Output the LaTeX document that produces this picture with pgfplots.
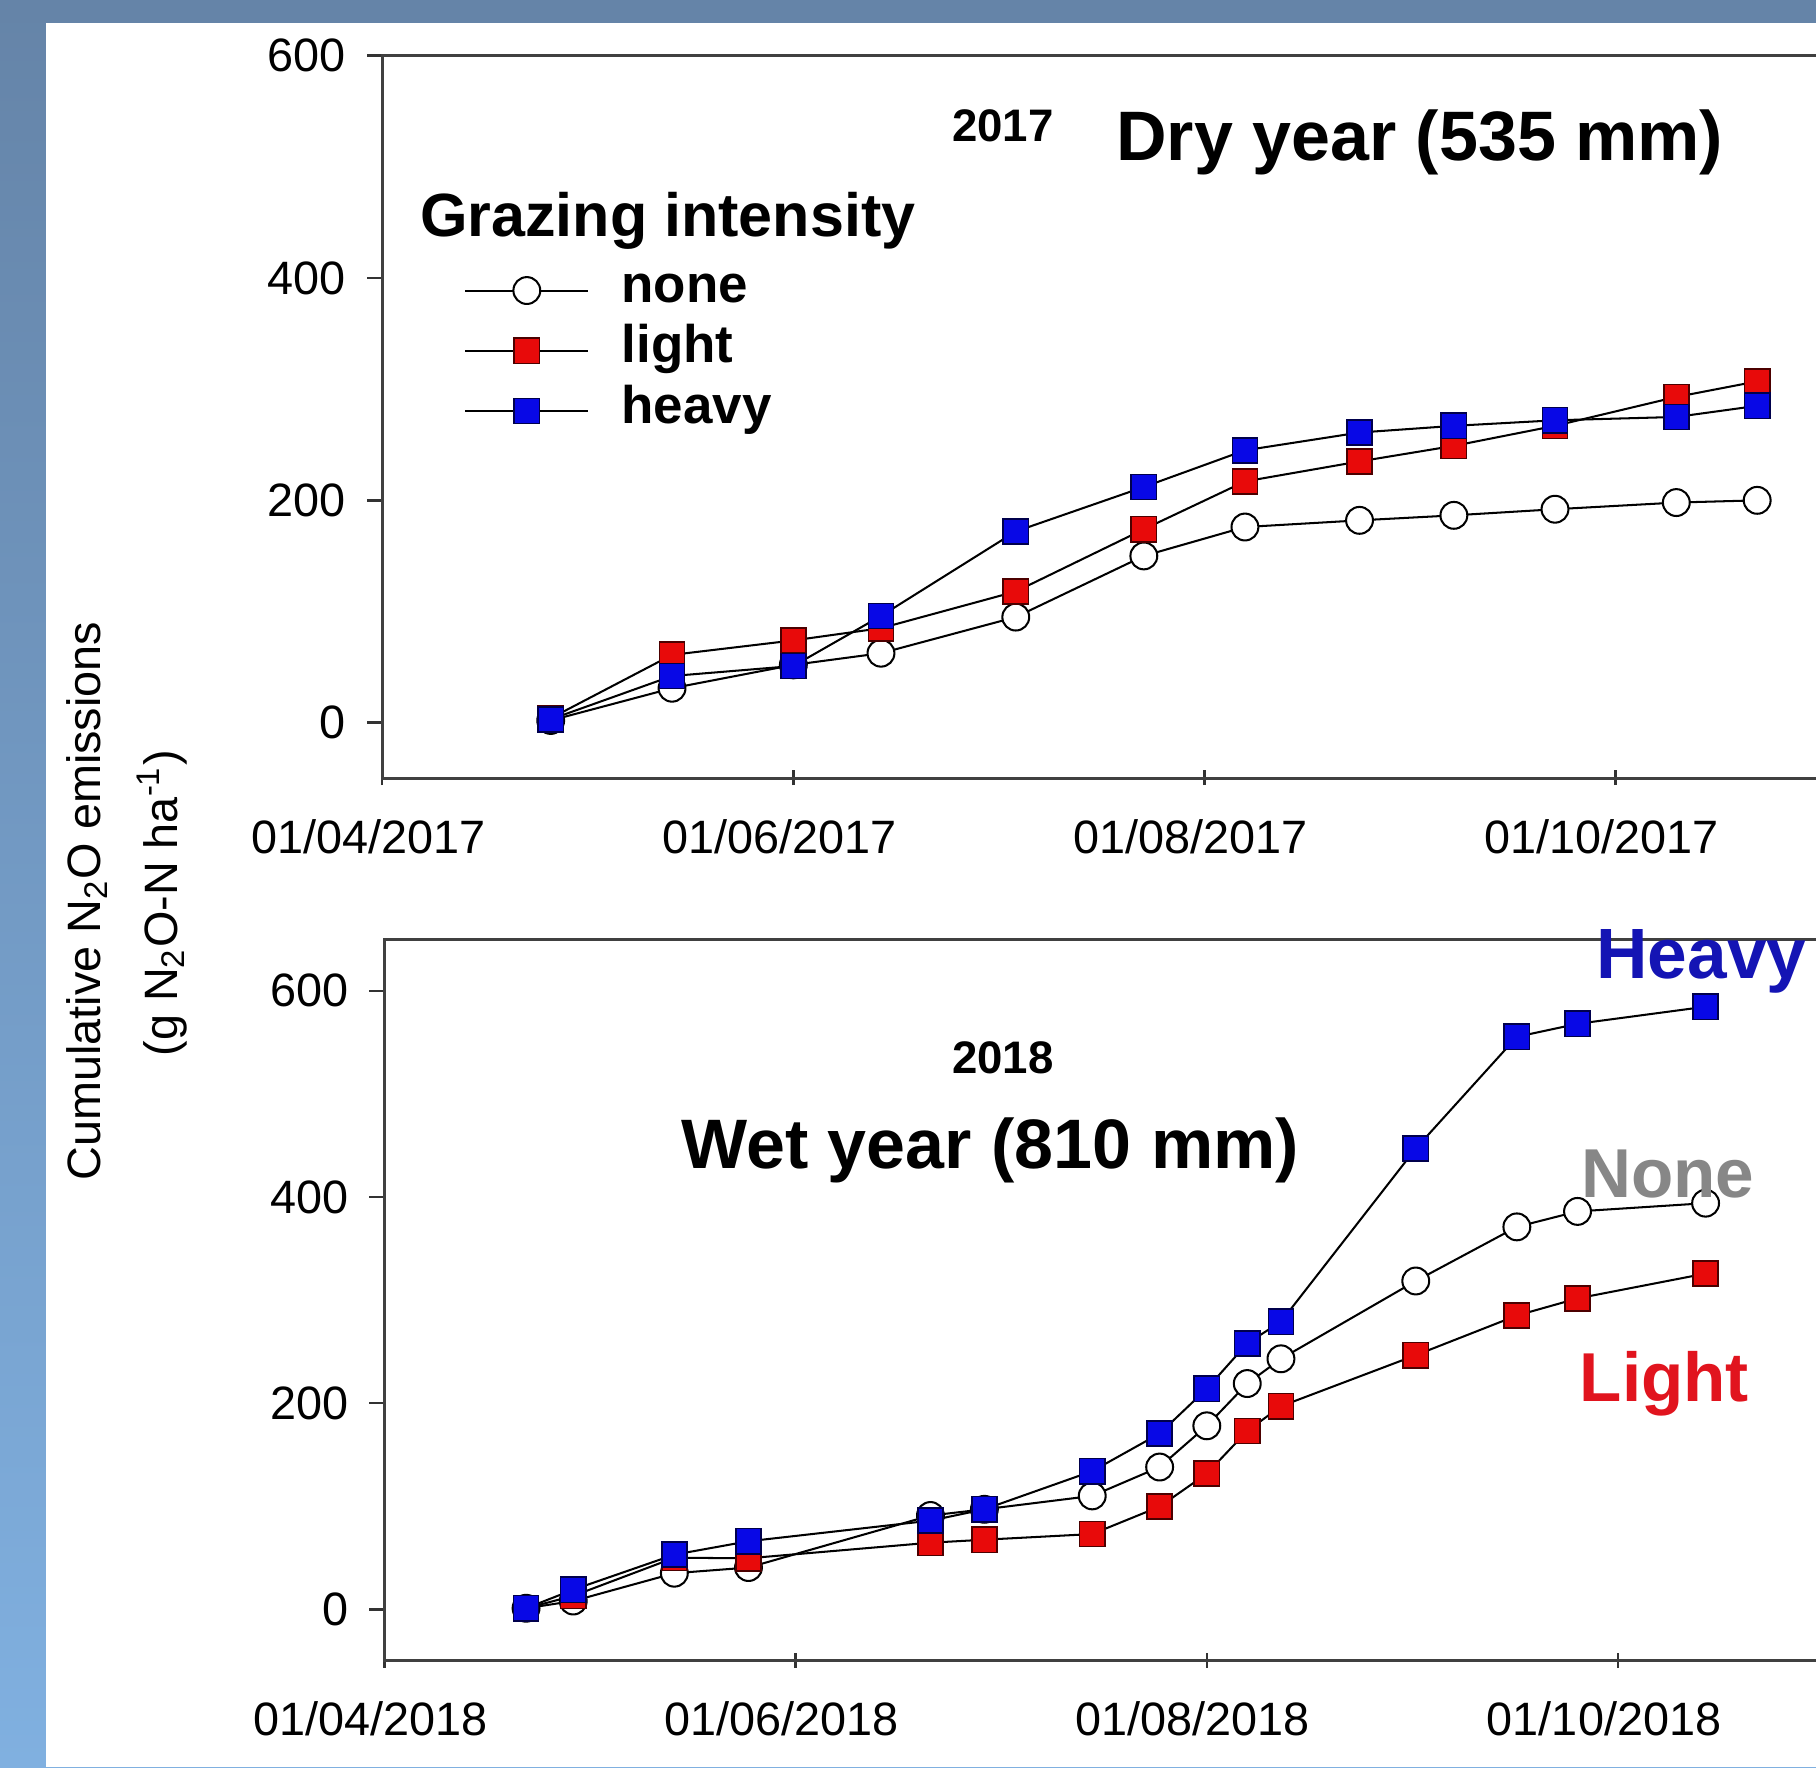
\documentclass[border=0pt]{standalone}
\usepackage{pgfplots}
\pgfplotsset{compat=1.18}
\usepackage{pgfplotstable}
\usepackage{fontspec}
\setmainfont{Liberation Sans}

\definecolor{bgtop}{RGB}{101,132,168}
\definecolor{bgbot}{RGB}{128,176,224}
\definecolor{mred}{RGB}{232,10,10}
\definecolor{mblue}{RGB}{8,8,230}
\definecolor{lblue}{RGB}{20,20,180}
\definecolor{lgray}{RGB}{135,135,135}
\definecolor{lred}{RGB}{225,20,30}

\newcommand\ticfont{\fontsize{11.5}{13}\selectfont}

% days since 1 April
\pgfplotstableread{
day none light heavy
25  2     4    3
43  31    61   42
61  52    74   51
74  62.5  85   96
94  95    118  172
113 150   174  212
128 176   217  245
145 182   235  261
159 186.5 249  267
174 192   267  272
192 198   293  275
204 200   307  285
}\dryyear

\pgfplotstableread{
day none light heavy
21  1     1     1
28  8     13    19
43  35    50    53
54  40.5  49.5  66
81  91    64.6  86
89  97    67.5  97
105 110   73    134
115 138   99.6  170.5
122 178   131.6 214
128 219   173   258
133 243   197   279
153 318.5 246.5 447
168 371   285   555.4
177 386   301.6 568
196 394   325.7 584.6
}\wetyear

\pgfplotsset{
  panel/.style={
    scale only axis, width=12.454cm, height=6.24cm,
    xmin=0, xmax=214,
    xtick={0,61,122,183},
    ytick={0,200,400,600},
    xtick pos=bottom, ytick pos=left,
    tick align=outside, major tick length=0.13cm,
    every major x tick/.append style={yshift=0.07cm},
    tick style={black!80, line width=0.6pt},
    axis line style={black!75, line width=0.8pt},
    tick label style={font=\ticfont},
    /pgf/number format/assume math mode=true,
    yticklabel style={xshift=-0.06cm},
    xticklabel style={yshift=-0.1cm, xshift=-0.12cm},
    every axis plot/.append style={black, line width=0.5pt},
  },
  snone/.style={mark=*, mark size=3.3pt, mark options={fill=white, draw=black, line width=0.5pt}},
  slight/.style={mark=square*, mark size=3.1pt, mark options={fill=mred, draw=black!70!red, line width=0.4pt}},
  sheavy/.style={mark=square*, mark size=3.1pt, mark options={fill=mblue, draw=black!70!blue, line width=0.4pt}},
}

\begin{document}
\begin{tikzpicture}
\useasboundingbox (0,0) rectangle (15.68,15.26);
\clip (0,0) rectangle (15.68,15.26);
\shade[top color=bgtop, bottom color=bgbot] (0,0) rectangle (15.68,15.26);
\fill[bgtop] (0,15.06) rectangle (15.68,15.26);
\fill[white] (0.40,0) rectangle (15.68,15.06);

% ---------- 2017 ----------
\begin{axis}[panel, at={(3.30cm,8.54cm)}, anchor=south west,
  ymin=-50, ymax=600,
  xticklabels={01/04/2017,01/06/2017,01/08/2017,01/10/2017},
  legend style={at={(0.057,0.711)}, anchor=north west, draw=none, fill=none,
    inner sep=0pt, outer sep=0pt, font=\fontsize{13}{15}\selectfont\bfseries,
    row sep=0.07cm, column sep=0.28cm,
    nodes={inner sep=0pt, text height=0.33cm, text depth=0.12cm}},
  legend cell align=left,
  legend image code/.code={\draw[mark repeat=2,mark phase=2,#1] plot coordinates {(0cm,0cm) (0.53cm,0cm) (1.06cm,0cm)};},
]
\addplot[snone]  table[x=day, y=none]  {\dryyear};
\addplot[slight] table[x=day, y=light] {\dryyear};
\addplot[sheavy] table[x=day, y=heavy] {\dryyear};
\legend{none, light, heavy}
\end{axis}

% ---------- 2018 ----------
\begin{axis}[panel, at={(3.32cm,0.92cm)}, anchor=south west, height=6.23cm,
  ymin=-50, ymax=650,
  xticklabels={01/04/2018,01/06/2018,01/08/2018,01/10/2018},
]
\addplot[snone]  table[x=day, y=none]  {\wetyear};
\addplot[slight] table[x=day, y=light] {\wetyear};
\addplot[sheavy] table[x=day, y=heavy] {\wetyear};
\end{axis}

% annotations
\node[font=\fontsize{11.2}{13}\selectfont\bfseries] at (8.66,14.17) {2017};
\node[font=\fontsize{17.2}{20}\selectfont\bfseries] at (12.26,14.03) {Dry year (535 mm)};
\node[font=\fontsize{15}{17}\selectfont\bfseries, anchor=west, inner sep=0pt] at (3.62,13.35) {Grazing intensity};

\node[font=\fontsize{11.2}{13}\selectfont\bfseries] at (8.66,6.13) {2018};
\node[font=\fontsize{17.2}{20}\selectfont\bfseries] at (8.55,5.33) {Wet year (810 mm)};
\node[font=\fontsize{17.5}{20}\selectfont\bfseries, text=lblue] at (14.69,6.96) {Heavy};
\node[font=\fontsize{17}{20}\selectfont\bfseries, text=lgray] at (14.40,5.12) {None};
\node[font=\fontsize{17}{20}\selectfont\bfseries, text=lred] at (14.37,3.31) {Light};

\node[rotate=90, font=\ticfont] at (0.75,7.48) {Cumulative N\textsubscript{2}O emissions};
\node[rotate=90, font=\ticfont] at (1.40,7.46) {(g N\textsubscript{2}O-N ha\textsuperscript{-1})};
\end{tikzpicture}
\end{document}
